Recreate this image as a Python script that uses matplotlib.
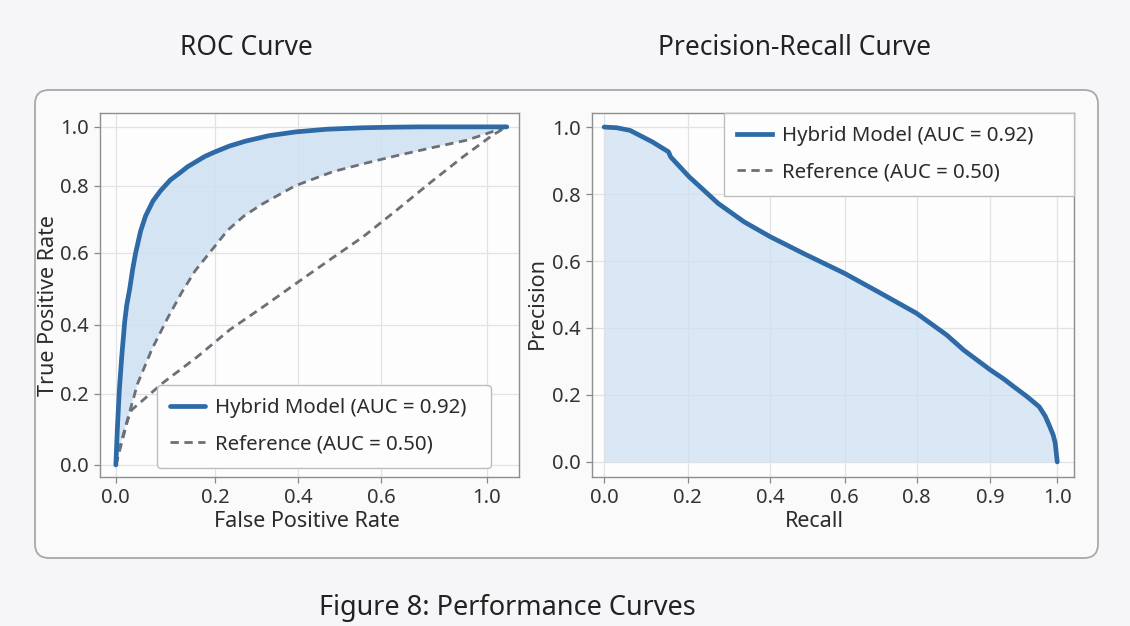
import numpy as np
import matplotlib
matplotlib.use('Agg')
import matplotlib.pyplot as plt
from matplotlib.patches import FancyBboxPatch
from matplotlib.lines import Line2D
from matplotlib.transforms import IdentityTransform

plt.rcParams['font.family'] = ['Noto Sans', 'DejaVu Sans']

# ROC data
roc_fpr = [0, 0.003, 0.007, 0.012, 0.018, 0.022, 0.028, 0.034, 0.040, 0.050, 0.060, 0.075, 0.090,
           0.110, 0.130, 0.145, 0.160, 0.180, 0.200, 0.235, 0.275, 0.330, 0.395, 0.470, 0.557, 0.650,
           0.750, 1.075]
roc_tpr = [0, 0.10, 0.21, 0.31, 0.41, 0.455, 0.50, 0.555, 0.60, 0.665, 0.71, 0.755, 0.785,
           0.82, 0.845, 0.865, 0.88, 0.90, 0.915, 0.935, 0.952, 0.97, 0.983, 0.992, 0.997, 0.999,
           1.0, 1.0]

ref_curve_fpr = [0, 0.010, 0.024, 0.044, 0.073, 0.105, 0.133, 0.160, 0.200, 0.231, 0.270, 0.313, 0.393,
                 0.484, 0.566, 0.672, 0.796, 0.925, 1.075]
ref_curve_tpr = [0, 0.06, 0.13, 0.23, 0.33, 0.42, 0.49, 0.55, 0.62, 0.668, 0.71, 0.745, 0.80,
                 0.848, 0.878, 0.905, 0.93, 0.955, 1.0]

ref_line_fpr = [0, 0.024, 0.032, 0.095, 0.164, 0.236, 0.316, 0.398, 0.477, 0.557, 0.660, 0.785, 0.909, 1.023, 1.075]
ref_line_tpr = [0, 0.127, 0.155, 0.232, 0.307, 0.386, 0.45, 0.517, 0.581, 0.648, 0.728, 0.81, 0.898, 0.973, 1.0]

# Precision-recall data
pr_recall = [0, 0.030, 0.062, 0.115, 0.154, 0.159, 0.203, 0.274, 0.337, 0.400, 0.489, 0.600, 0.700,
             0.800, 0.841, 0.864, 0.900, 0.920, 0.935, 0.955, 0.973, 0.982, 0.989, 0.994, 0.997, 1.0]
pr_precision = [1.0, 0.998, 0.99, 0.956, 0.926, 0.911, 0.852, 0.772, 0.717, 0.673, 0.623, 0.563, 0.504,
                0.444, 0.379, 0.334, 0.275, 0.248, 0.225, 0.195, 0.165, 0.137, 0.105, 0.08, 0.056, 0.0]

roc_xticks = [0.0, 0.2, 0.4, 0.6, 1.0]
roc_yticks = [0.0, 0.2, 0.4, 0.6, 0.8, 1.0]
pr_xticks = [0.0, 0.2, 0.4, 0.6, 0.8, 0.9, 1.0]
pr_yticks = [0.0, 0.2, 0.4, 0.6, 0.8, 1.0]

hybrid_label = 'Hybrid Model (AUC = 0.92)'
ref_label = 'Reference (AUC = 0.50)'

# uneven tick spacing in the original -> piecewise linear scales
roc_x_knots = ([-0.4, 0, 0.2, 0.4, 0.6, 1.0, 1.6], [-82, 116, 215, 298, 381, 487, 646])
roc_y_knots = ([-0.4, 0, 0.2, 0.4, 0.6, 0.8, 1.0, 1.4], [-142, 0, 71, 140, 212, 279, 338, 456])
pr_x_knots = ([-0.4, 0, 0.2, 0.4, 0.6, 0.8, 0.9, 1.0, 1.4], [436.8, 604, 687.6, 769.8, 844.5, 916.3, 990, 1057, 1325])


def piecewise(knots):
    kv, kp = np.asarray(knots[0], float), np.asarray(knots[1], float)
    return (lambda v: np.interp(v, kv, kp), lambda p: np.interp(p, kp, kv))


blue = '#2d6aa6'
fill_blue = '#cfe0f2'
grey = '#6c6f76'
txt = '#2b2b2b'
tick_fs = 14.5
lab_fs = 15.5
leg_fs = 14.7

W, H = 1130, 626
fig = plt.figure(figsize=(W / 100, H / 100), dpi=100, facecolor='#f6f6f8')

# outer rounded panel
box = FancyBboxPatch((35, H - 558), 1063, 468, boxstyle='round,pad=0,rounding_size=14',
                     transform=IdentityTransform(), facecolor='#fafafb', edgecolor='#a9a9a9',
                     linewidth=1.3, zorder=-10)
fig.add_artist(box)

ax1 = fig.add_axes([100 / W, 1 - 477 / H, 419 / W, 364 / H])
ax2 = fig.add_axes([592 / W, 1 - 477 / H, 482 / W, 364 / H])


def style(ax):
    ax.set_facecolor('#fdfdfd')
    for s in ax.spines.values():
        s.set_color('#8e8e8e')
        s.set_linewidth(1.0)
    ax.grid(True, color='#e2e2e4', linewidth=0.9)
    ax.set_axisbelow(True)
    ax.tick_params(direction='out', length=4, width=0.9, color='#888888',
                   labelsize=tick_fs, labelcolor='#333333', pad=4)


def legend_style(leg):
    leg.get_frame().set_linewidth(1.0)
    for t in leg.get_texts():
        t.set_color(txt)


# ROC
ax1.set_xscale('function', functions=piecewise(roc_x_knots))
ax1.set_yscale('function', functions=piecewise(roc_y_knots))
style(ax1)
ax1.fill(roc_fpr + ref_curve_fpr[::-1], roc_tpr + ref_curve_tpr[::-1],
         color=fill_blue, alpha=0.85, linewidth=0, zorder=1)
ax1.plot(ref_curve_fpr, ref_curve_tpr, color=grey, lw=2.0, ls=(0, (3, 2)), zorder=2)
ax1.plot(ref_line_fpr, ref_line_tpr, color=grey, lw=2.0, ls=(0, (3, 2)), zorder=2,
         label=ref_label)
ax1.plot(roc_fpr, roc_tpr, color=blue, lw=3.4, solid_capstyle='round', solid_joinstyle='round',
         zorder=3, label=hybrid_label)
ax1.set_xlim(-0.032, 1.121)
ax1.set_ylim(-0.034, 1.047)
ax1.set_xticks(roc_xticks)
ax1.set_xticklabels(['%.1f' % t for t in roc_xticks])
ax1.set_yticks(roc_yticks)
ax1.set_yticklabels(['%.1f' % t for t in roc_yticks])
ax1.minorticks_off()
ax1.set_xlabel('False Positive Rate', fontsize=lab_fs, color=txt)
ax1.set_ylabel('True Positive Rate', fontsize=lab_fs, color=txt)
ax1.xaxis.set_label_coords(0.494, -0.094)
ax1.yaxis.set_label_coords(-0.097, 0.47)
h, l = ax1.get_legend_handles_labels()
leg1 = ax1.legend(h[::-1], l[::-1], loc='lower left', bbox_to_anchor=(0.136, 0.025, 0.797, 0.2),
                  mode='expand', borderaxespad=0, fontsize=leg_fs, frameon=True, fancybox=True,
                  edgecolor='#bdbdbd', facecolor='#fdfdfd', framealpha=1,
                  handlelength=1.7, handletextpad=0.5, labelspacing=0.8,
                  borderpad=0.65)
legend_style(leg1)

# Precision-Recall
ax2.set_xscale('function', functions=piecewise(pr_x_knots))
style(ax2)
ax2.fill_between(pr_recall, pr_precision, 0, color=fill_blue, alpha=0.75, linewidth=0, zorder=1)
ax2.plot(pr_recall, pr_precision, color=blue, lw=3.4, solid_capstyle='round',
         solid_joinstyle='round', zorder=3)
ax2.set_xlim(-0.029, 1.025)
ax2.set_ylim(-0.045, 1.042)
ax2.set_xticks(pr_xticks)
ax2.set_xticklabels(['%.1f' % t for t in pr_xticks])
ax2.set_yticks(pr_yticks)
ax2.set_yticklabels(['%.1f' % t for t in pr_yticks])
ax2.minorticks_off()
ax2.set_xlabel('Recall', fontsize=lab_fs, color=txt)
ax2.set_ylabel('Precision', fontsize=lab_fs, color=txt)
ax2.xaxis.set_label_coords(0.461, -0.094)
ax2.yaxis.set_label_coords(-0.092, 0.478)
handles = [Line2D([], [], color=blue, lw=3.4), Line2D([], [], color=grey, lw=2.0, ls=(0, (3, 2)))]
leg2 = ax2.legend(handles, [hybrid_label, ref_label], loc='upper left',
                  bbox_to_anchor=(0.273, 0.8, 0.727, 0.2), mode='expand',
                  borderaxespad=0, fontsize=leg_fs, frameon=True, fancybox=False,
                  edgecolor='#bdbdbd', facecolor='#fdfdfd', framealpha=1,
                  handlelength=1.7, handletextpad=0.5, labelspacing=0.8, borderpad=0.65)
legend_style(leg2)

# titles and caption
fig.text(246 / W, 1 - 48 / H, 'ROC Curve', ha='center', va='center', fontsize=19, color='#222222')
fig.text(794 / W, 1 - 48 / H, 'Precision-Recall Curve', ha='center', va='center', fontsize=19,
         color='#222222')
fig.text(507 / W, 1 - 608 / H, 'Figure 8: Performance Curves', ha='center', va='center',
         fontsize=19.5, color='#222222')

fig.savefig('out.png', dpi=100, facecolor=fig.get_facecolor())
